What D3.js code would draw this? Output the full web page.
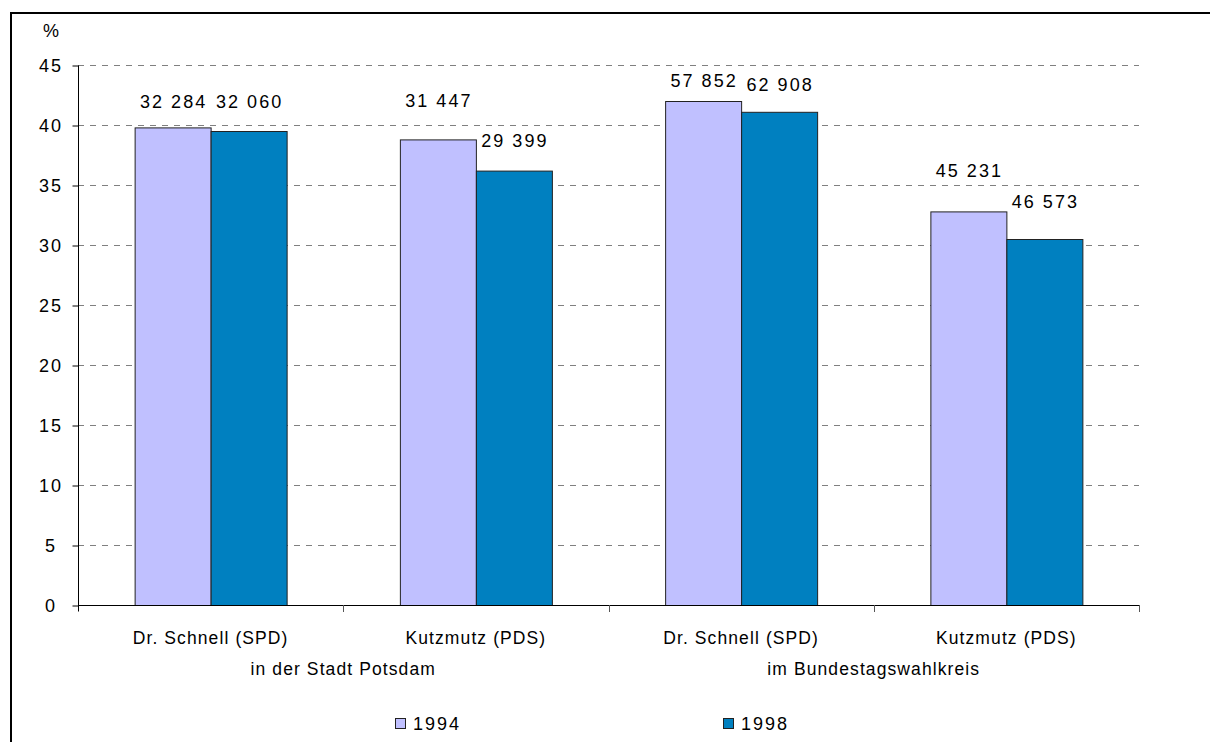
<!DOCTYPE html>
<html>
<head>
<meta charset="utf-8">
<script src="https://cdn.jsdelivr.net/npm/d3@7"></script>
<style>
  html, body { margin: 0; padding: 0; background: #fff; overflow: hidden; }
  svg { display: block; }
  text { font-family: "Liberation Sans", Arial, sans-serif; fill: #000; }
</style>
</head>
<body>
<svg id="chart" width="1210" height="742"></svg>
<script>
// ---- data ----
const candidates = ["Dr. Schnell (SPD)", "Kutzmutz (PDS)", "Dr. Schnell (SPD)", "Kutzmutz (PDS)"];
const regions = ["in der Stadt Potsdam", "im Bundestagswahlkreis"];
const seriesNames = ["1994", "1998"];
const pct1994 = [39.8, 38.8, 42.0, 32.8];
const pct1998 = [39.5, 36.2, 41.1, 30.5];
const votes1994 = ["32 284", "31 447", "57 852", "45 231"];
const votes1998 = ["32 060", "29 399", "62 908", "46 573"];
// level (in %) at which each vote-count label sits
const labelLevel1994 = [41.4, 41.5, 43.2, 35.7];
const labelLevel1998 = [41.4, 38.2, 42.8, 33.1];
const yTicks = [0, 5, 10, 15, 20, 25, 30, 35, 40, 45];
const colors = ["#C0C0FF", "#0080C0"];

const svg = d3.select("#chart");

// frame (top & left visible)
svg.append("rect").attr("x", 11).attr("y", 13).attr("width", 1300).attr("height", 800)
  .attr("fill", "none").attr("stroke", "#000").attr("stroke-width", 2);

const x0 = 78, x1 = 1139, yTop = 65, yBot = 605;
const idx = d3.range(candidates.length);
const x = d3.scaleBand().domain(idx).range([x0, x1]).paddingInner(0).paddingOuter(0);
const y = d3.scaleLinear().domain([0, 45]).range([yBot, yTop]);
const barW = 76;

// gridlines
svg.append("g").selectAll("line").data(yTicks.filter(t => t > 0)).join("line")
  .attr("x1", x0).attr("x2", x1)
  .attr("y1", d => Math.round(y(d)) + 0.5).attr("y2", d => Math.round(y(d)) + 0.5)
  .attr("stroke", "#808080").attr("stroke-width", 1).attr("stroke-dasharray", "6,6");

// bars
const series = [pct1994, pct1998];
const labels = [votes1994, votes1998];
const levels = [labelLevel1994, labelLevel1998];
series.forEach((vals, s) => {
  svg.append("g").selectAll("rect").data(idx).join("rect")
    .attr("x", i => x(i) + x.bandwidth() / 2 - barW + s * barW + 0.5)
    .attr("y", i => y(vals[i]) + 0.5)
    .attr("width", barW)
    .attr("height", i => yBot - y(vals[i]))
    .attr("fill", colors[s])
    .attr("stroke", "#222").attr("stroke-width", 1);
  svg.append("g").selectAll("text").data(idx).join("text")
    .attr("x", i => x(i) + x.bandwidth() / 2 - barW / 2 + s * barW + 1)
    .attr("y", i => y(levels[s][i]))
    .attr("text-anchor", "middle")
    .attr("font-size", 18).attr("letter-spacing", 2)
    .text(i => labels[s][i]);
});

// y axis
const yAxis = d3.axisLeft(y).tickValues(yTicks).tickSize(6).tickPadding(12).tickFormat(d3.format("d"));
const gy = svg.append("g").attr("transform", `translate(${x0 + 0.5},0.5)`).call(yAxis);
gy.select(".domain").attr("d", `M0,${yTop}V${yBot + 6}`).attr("stroke", "#000");
gy.selectAll(".tick line").attr("stroke", "#000");
gy.selectAll(".tick text").attr("font-size", 18).attr("letter-spacing", 2)
  .attr("text-anchor", "middle").attr("x", 50 - (x0 + 0.5) + 1)
  .attr("font-family", "Liberation Sans, Arial, sans-serif").attr("fill", "#000");

// x axis
svg.append("line").attr("x1", x0).attr("x2", x1).attr("y1", yBot + 0.5).attr("y2", yBot + 0.5)
  .attr("stroke", "#000");
const bounds = d3.range(candidates.length + 1).map(i => x0 + i * x.bandwidth());
svg.append("g").selectAll("line").data(bounds.slice(1)).join("line")
  .attr("x1", d => Math.round(d) + 0.5).attr("x2", d => Math.round(d) + 0.5)
  .attr("y1", yBot).attr("y2", yBot + 7).attr("stroke", "#555");

// category labels
svg.append("g").selectAll("text").data(idx).join("text")
  .attr("x", i => x(i) + x.bandwidth() / 2)
  .attr("y", 644)
  .attr("text-anchor", "middle").attr("font-size", 17.5).attr("letter-spacing", 1.1)
  .text(i => candidates[i]);
svg.append("g").selectAll("text").data(regions).join("text")
  .attr("x", (d, j) => x(j * 2) + x.bandwidth())
  .attr("y", 675)
  .attr("text-anchor", "middle").attr("font-size", 17.5).attr("letter-spacing", 1.1)
  .text(d => d);

// unit label
svg.append("text").attr("x", 51).attr("y", 37).attr("text-anchor", "middle")
  .attr("font-size", 18).text("%");

// legend
const legX = [395, 723];
seriesNames.forEach((n, s) => {
  svg.append("rect").attr("x", legX[s] + 0.5).attr("y", 718.5).attr("width", 10).attr("height", 10)
    .attr("fill", colors[s]).attr("stroke", "#222");
  svg.append("text").attr("x", legX[s] + 18).attr("y", 730).attr("font-size", 18)
    .attr("letter-spacing", 2).text(n);
});
</script>
</body>
</html>
